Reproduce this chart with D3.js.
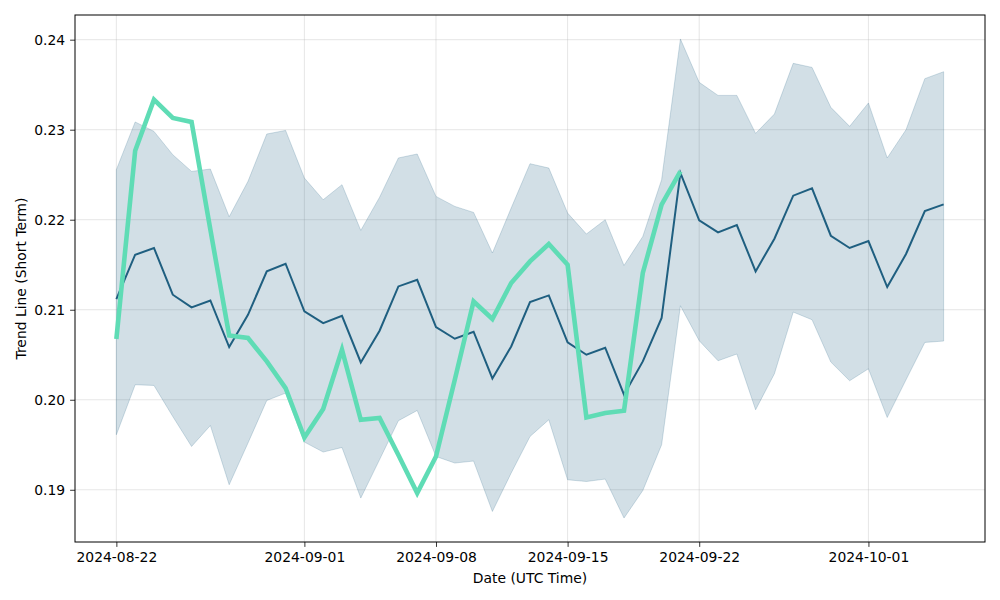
<!DOCTYPE html>
<html>
<head>
<meta charset="utf-8">
<script src="https://cdn.jsdelivr.net/npm/d3@7"></script>
<style>
  html, body { margin: 0; padding: 0; background: #fff; }
  svg { display: block; }
  text { font-family: "DejaVu Sans", sans-serif; fill: #000; }
</style>
</head>
<body>
<svg id="chart" width="1000" height="600"></svg>
<script>
// ---- data ----
const startDate = "2024-08-22";
const meanValues = [
  0.21119, 0.21611, 0.21686, 0.21167, 0.21026, 0.21103, 0.20586, 0.20944, 0.21426, 0.21511,
  0.20981, 0.20852, 0.20933, 0.20414, 0.20767, 0.21259, 0.21333, 0.20808, 0.20678, 0.20756,
  0.20237, 0.20592, 0.21086, 0.21159, 0.20637, 0.20500, 0.20578, 0.20056, 0.20426, 0.20908,
  0.22519, 0.21992, 0.21859, 0.21941, 0.21426, 0.21789, 0.22267, 0.22348, 0.21822, 0.21686,
  0.21763, 0.21252, 0.21619, 0.22097, 0.22170
];
const upperValues = [
  0.22556, 0.23086, 0.22981, 0.22722, 0.22537, 0.22563, 0.22033, 0.22426, 0.22952, 0.22992,
  0.22463, 0.22222, 0.22389, 0.21881, 0.22250, 0.22686, 0.22730, 0.22259, 0.22148, 0.22081,
  0.21630, 0.22130, 0.22622, 0.22574, 0.22074, 0.21841, 0.22000, 0.21492, 0.21814, 0.22444,
  0.24008, 0.23526, 0.23381, 0.23381, 0.22959, 0.23174, 0.23737, 0.23692, 0.23248, 0.23037,
  0.23297, 0.22686, 0.23000, 0.23567, 0.23644
];
const lowerValues = [
  0.19611, 0.20167, 0.20159, 0.19814, 0.19481, 0.19714, 0.19056, 0.19519, 0.19992, 0.20074,
  0.19530, 0.19419, 0.19470, 0.18908, 0.19335, 0.19767, 0.19881, 0.19370, 0.19297, 0.19319,
  0.18759, 0.19186, 0.19592, 0.19778, 0.19111, 0.19092, 0.19119, 0.18686, 0.18992, 0.19500,
  0.21044, 0.20656, 0.20433, 0.20508, 0.19889, 0.20289, 0.20974, 0.20889, 0.20419, 0.20211,
  0.20344, 0.19803, 0.20222, 0.20637, 0.20652
];
const actualValues = [
  0.20674, 0.22767, 0.23333, 0.23130, 0.23086, 0.21889, 0.20714, 0.20686, 0.20426, 0.20130,
  0.19581, 0.19897, 0.20556, 0.19778, 0.19797, 0.19386, 0.18963, 0.19370, 0.20222, 0.21092,
  0.20897, 0.21297, 0.21537, 0.21730, 0.21500, 0.19803, 0.19852, 0.19878, 0.21408, 0.22167,
  0.22537
];
const xTickLabels = ["2024-08-22", "2024-09-01", "2024-09-08", "2024-09-15", "2024-09-22", "2024-10-01"];
const yTickValues = [0.19, 0.20, 0.21, 0.22, 0.23, 0.24];
const xAxisTitle = "Date (UTC Time)";
const yAxisTitle = "Trend Line (Short Term)";

// ---- build ----
const parse = d3.utcParse("%Y-%m-%d");
const fmt = d3.utcFormat("%Y-%m-%d");
const t0 = parse(startDate);
const dates = meanValues.map((_, i) => d3.utcDay.offset(t0, i));
const band = dates.map((d, i) => ({ d, lo: lowerValues[i], hi: upperValues[i], m: meanValues[i] }));
const actual = actualValues.map((v, i) => ({ d: dates[i], v }));

const svg = d3.select("#chart");
const margin = { left: 75, right: 15, top: 15, bottom: 58 };
const W = 1000, H = 600;
const plotW = W - margin.left - margin.right;
const plotH = H - margin.top - margin.bottom;

const dayMs = 864e5;
const span = dates[dates.length - 1] - dates[0];
const x = d3.scaleUtc()
  .domain([new Date(+dates[0] - span * 0.05), new Date(+dates[dates.length - 1] + span * 0.05)])
  .range([margin.left, margin.left + plotW]);

const allVals = upperValues.concat(lowerValues, meanValues, actualValues);
const ymin = d3.min(allVals), ymax = d3.max(allVals);
const yr = ymax - ymin;
const y = d3.scaleLinear()
  .domain([ymin - yr * 0.05, ymax + yr * 0.05])
  .range([margin.top + plotH, margin.top]);

const xTicks = xTickLabels.map(s => parse(s));

// grid
const grid = svg.append("g");
grid.selectAll("line.v").data(xTicks).join("line")
  .attr("x1", d => x(d)).attr("x2", d => x(d))
  .attr("y1", margin.top).attr("y2", margin.top + plotH)
  .attr("stroke", "#b0b0b0").attr("stroke-opacity", 0.4).attr("stroke-width", 0.8);
grid.selectAll("line.h").data(yTickValues).join("line")
  .attr("y1", d => y(d)).attr("y2", d => y(d))
  .attr("x1", margin.left).attr("x2", margin.left + plotW)
  .attr("stroke", "#b0b0b0").attr("stroke-opacity", 0.4).attr("stroke-width", 0.8);

// band
const area = d3.area().x(d => x(d.d)).y0(d => y(d.lo)).y1(d => y(d.hi));
svg.append("path").datum(band).attr("d", area)
  .attr("fill", "rgb(30,95,130)").attr("fill-opacity", 0.2)
  .attr("stroke", "rgb(30,95,130)").attr("stroke-opacity", 0.2).attr("stroke-width", 1);

// mean line
svg.append("path").datum(band)
  .attr("d", d3.line().x(d => x(d.d)).y(d => y(d.m)))
  .attr("fill", "none").attr("stroke", "#1f5f80").attr("stroke-width", 2)
  .attr("stroke-linejoin", "miter");

// actual line
svg.append("path").datum(actual)
  .attr("d", d3.line().x(d => x(d.d)).y(d => y(d.v)))
  .attr("fill", "none").attr("stroke", "#5fdcb5").attr("stroke-width", 4.6)
  .attr("stroke-linejoin", "miter");

// axes
const xAxis = d3.axisBottom(x).tickValues(xTicks).tickFormat(fmt).tickSizeOuter(0).tickSize(4.9).tickPadding(4.9);
const gx = svg.append("g").attr("transform", `translate(0,${margin.top + plotH})`).call(xAxis);
const yAxis = d3.axisLeft(y).tickValues(yTickValues).tickFormat(d3.format(".2f")).tickSizeOuter(0).tickSize(4.9).tickPadding(4.9);
const gy = svg.append("g").attr("transform", `translate(${margin.left},0)`).call(yAxis);
[gx, gy].forEach(g => {
  g.select(".domain").remove();
  g.selectAll(".tick line").attr("stroke", "#000").attr("stroke-width", 0.8);
  g.selectAll(".tick text").attr("font-size", "13.9px").attr("font-family", "DejaVu Sans, sans-serif").attr("fill", "#000");
});

// frame
svg.append("rect").attr("x", margin.left).attr("y", margin.top)
  .attr("width", plotW).attr("height", plotH)
  .attr("fill", "none").attr("stroke", "#000").attr("stroke-width", 1);

// titles
svg.append("text").attr("x", margin.left + plotW / 2).attr("y", 583)
  .attr("text-anchor", "middle").attr("font-size", "13.9px").text(xAxisTitle);
svg.append("text")
  .attr("transform", `translate(26,${margin.top + plotH / 2}) rotate(-90)`)
  .attr("text-anchor", "middle").attr("font-size", "13.9px").text(yAxisTitle);
</script>
</body>
</html>
